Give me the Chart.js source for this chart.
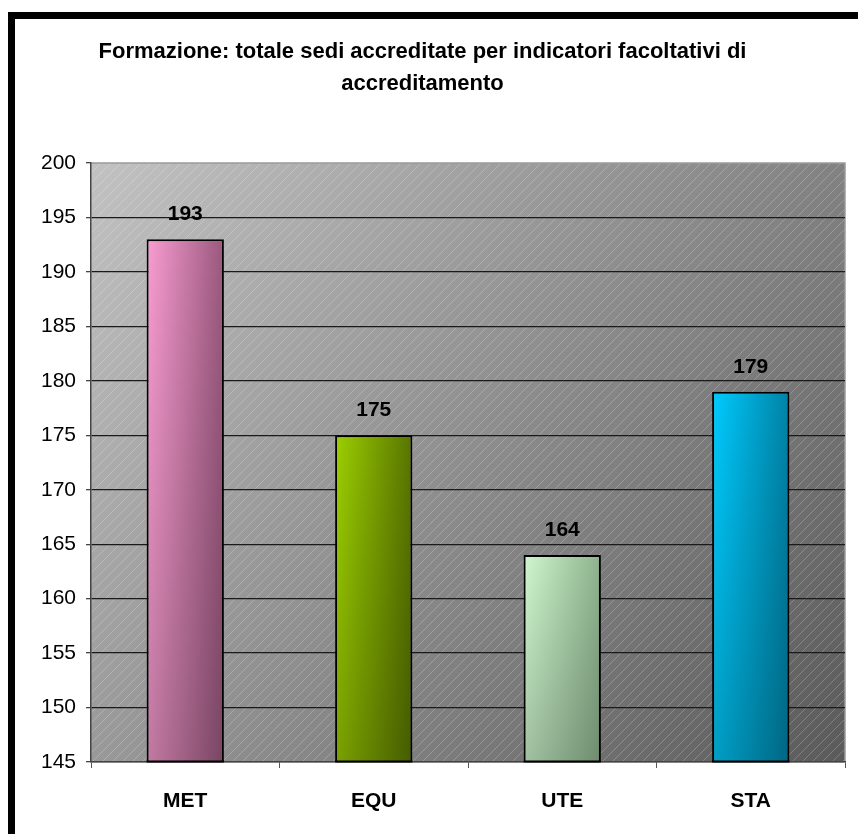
<!DOCTYPE html>
<html>
<head>
<meta charset="utf-8">
<script src="https://cdn.jsdelivr.net/npm/chart.js@4/dist/chart.umd.min.js"></script>
<style>
  html, body { margin: 0; padding: 0; background: #fff; }
  #wrap { width: 858px; height: 834px; position: relative; }
</style>
</head>
<body>
<div id="wrap"><canvas id="c"></canvas></div>
<script>
// Sedi accreditate per indicatore facoltativo
const categories = ['MET', 'EQU', 'UTE', 'STA'];
const values = [193, 175, 164, 179];
const titleLines = ['Formazione: totale sedi accreditate per indicatori facoltativi di', 'accreditamento'];
const yMin = 145, yMax = 200, yStep = 5;

// light (left) / dark (right) tones for each bar
const barLight = ['#fa9dd2', '#9dd000', '#cff8cf', '#00ccff'];
const barDark  = ['#9a587e', '#587400', '#8db28d', '#0082a6'];

const BAR_PCT = 0.41;
const FONT = '"Liberation Sans", Arial, sans-serif';

function barGradient(ctx) {
  const chart = ctx.chart;
  const i = ctx.dataIndex;
  const xs = chart.scales && chart.scales.x;
  if (!xs || i === undefined) return barLight[0];
  const cx = xs.getPixelForValue(i);
  const w = (xs.right - xs.left) / categories.length * BAR_PCT;
  if (!Number.isFinite(cx) || !Number.isFinite(w) || w <= 0) return barLight[i];
  const g = chart.ctx.createLinearGradient(cx - w / 2, 0, cx + w / 2, 0);
  g.addColorStop(0, barLight[i]);
  g.addColorStop(1, barDark[i]);
  return g;
}

const frameAndPlot = {
  id: 'frameAndPlot',
  beforeDraw(chart) {
    const c = chart.ctx;
    const a = chart.chartArea;
    c.save();
    c.fillStyle = '#fff';
    c.fillRect(0, 0, chart.width, chart.height);
    // outer frame
    c.strokeStyle = '#000';
    c.lineWidth = 7;
    c.strokeRect(11.5, 15.5, chart.width + 40, chart.height + 40);
    // plot background
    const g = c.createLinearGradient(a.left, a.top, a.right, a.bottom);
    g.addColorStop(0, '#c2c2c2');
    g.addColorStop(0.5, '#8d8d8d');
    g.addColorStop(1, '#5a5a5a');
    c.fillStyle = g;
    c.fillRect(a.left, a.top, a.right - a.left, a.bottom - a.top);
    // diagonal hatching
    c.beginPath();
    c.rect(a.left, a.top, a.right - a.left, a.bottom - a.top);
    c.clip();
    c.strokeStyle = 'rgba(255,255,255,0.28)';
    c.lineWidth = 0.8;
    const h = a.bottom - a.top;
    c.beginPath();
    for (let x = a.left - h; x < a.right + 10; x += 10) {
      c.moveTo(x, a.bottom);
      c.lineTo(x + h, a.top);
    }
    c.stroke();
    c.restore();
    // plot border (top/right)
    c.save();
    c.strokeStyle = '#9a9a9a';
    c.lineWidth = 1.5;
    c.beginPath();
    c.moveTo(a.left, a.top);
    c.lineTo(a.right, a.top);
    c.lineTo(a.right, a.bottom);
    c.stroke();
    c.restore();
  },
  afterDatasetsDraw(chart) {
    const c = chart.ctx;
    const a = chart.chartArea;
    const meta = chart.getDatasetMeta(0);
    const data = chart.data.datasets[0].data;
    c.save();
    meta.data.forEach((el, i) => {
      const left = el.x - el.width / 2 + 1;
      const right = el.x + el.width / 2 - 1;
      const top = el.y + 1;
      const bottom = Math.min(el.base, a.bottom);
      // vertical shading toward the base
      const v = c.createLinearGradient(0, top, 0, bottom);
      v.addColorStop(0, 'rgba(0,0,0,0)');
      v.addColorStop(1, 'rgba(0,0,0,0.22)');
      c.fillStyle = v;
      c.fillRect(left, top, right - left, bottom - top - 1);
      // closing edge at the axis
      c.strokeStyle = '#000';
      c.lineWidth = 2;
      c.beginPath();
      c.moveTo(left - 1, bottom - 0.5);
      c.lineTo(right + 1, bottom - 0.5);
      c.stroke();
      // value label
      c.fillStyle = '#000';
      c.font = 'bold 21px ' + FONT;
      c.textAlign = 'center';
      c.textBaseline = 'middle';
      c.fillText(String(data[i]), el.x, el.y - 25);
    });
    c.restore();
  }
};

new Chart(document.getElementById('c'), {
  type: 'bar',
  data: {
    labels: categories,
    datasets: [{
      data: values,
      backgroundColor: barGradient,
      borderColor: '#000',
      borderWidth: 2,
      borderSkipped: false,
      barPercentage: BAR_PCT,
      categoryPercentage: 1
    }]
  },
  options: {
    responsive: true,
    maintainAspectRatio: false,
    animation: false,
    events: [],
    layout: { padding: { left: 0, right: 13, top: 0, bottom: 0 } },
    plugins: {
      legend: { display: false },
      tooltip: { enabled: false },
      title: {
        display: true,
        text: titleLines,
        color: '#000',
        font: { family: FONT, size: 22, weight: 'bold', lineHeight: 32 / 22 },
        padding: { top: 36, bottom: 63 }
      }
    },
    scales: {
      x: {
        afterFit(s) { s.height = 72; },
        grid: {
          display: true,
          offset: true,
          drawOnChartArea: false,
          drawTicks: true,
          tickLength: 6,
          color: '#555'
        },
        border: { display: true, color: '#444', width: 1.5 },
        ticks: {
          color: '#000',
          padding: 21,
          font: { family: FONT, size: 21, weight: 'bold' }
        }
      },
      y: {
        min: yMin,
        max: yMax,
        afterFit(s) { s.width = 91; },
        ticks: {
          stepSize: yStep,
          color: '#000',
          padding: 10,
          font: { family: FONT, size: 21 }
        },
        grid: {
          color: (ctx) => (ctx.tick && ctx.tick.value === yMax ? 'rgba(0,0,0,0)' : '#1a1a1a'),
          lineWidth: 1.3,
          tickLength: 5,
          tickColor: '#444'
        },
        border: { display: true, color: '#444', width: 1.5 }
      }
    }
  },
  plugins: [frameAndPlot]
});
</script>
</body>
</html>
